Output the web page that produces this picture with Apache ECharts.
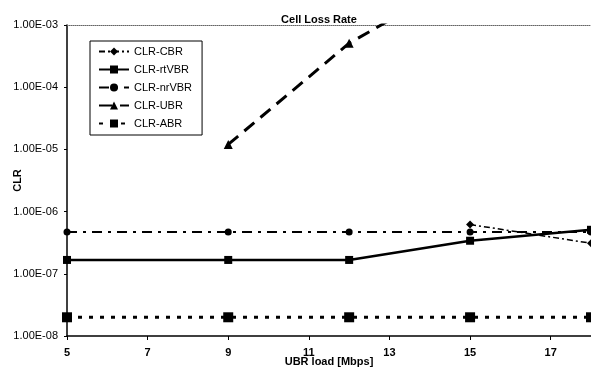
<!DOCTYPE html>
<html><head><meta charset="utf-8">
<script src="https://cdn.jsdelivr.net/npm/echarts@6/dist/echarts.min.js"></script>
<style>html,body{margin:0;padding:0;background:#fff}#c{width:591px;height:368px}</style>
</head><body><div id="c"></div>
<script>
const loads = [5, 9, 12, 15, 18];
const clrCBR = [null, null, null, 6.2e-7, 3.1e-7];
const clrRtVBR = [1.67e-7, 1.67e-7, 1.67e-7, 3.4e-7, 5.1e-7];
const clrNrVBR = [4.7e-7, 4.7e-7, 4.7e-7, 4.7e-7, 4.7e-7];
const clrUBR = [null, 1.2e-5, 5.1e-4, 6.5e-3, null];
const clrABR = [2e-8, 2e-8, 2e-8, 2e-8, 2e-8];
const seriesNames = ['CLR-CBR', 'CLR-rtVBR', 'CLR-nrVBR', 'CLR-UBR', 'CLR-ABR'];

const pair = arr => loads.map((x, i) => [x, arr[i]]);
const font = 'Liberation Sans, Arial, sans-serif';
function expFmt(v) {
  const e = Math.round(Math.log10(v));
  const a = Math.abs(e);
  return '1.00E' + (e < 0 ? '-' : '') + (a < 10 ? '0' + a : a);
}
const chart = echarts.init(document.getElementById('c'));
chart.setOption({
  animation: false,
  title: { text: 'Cell Loss Rate', left: 314, textAlign: 'center', top: 9,
    textStyle: { fontFamily: font, fontSize: 11, fontWeight: 'bold', color: '#000' } },
  grid: { left: 67, right: 0, top: 25, bottom: 32, containLabel: false, outerBoundsMode: 'none' },
  legend: {
    orient: 'vertical', left: 90, top: 41, width: 114,
    padding: [5, 10, 6, 8], itemGap: 7, itemWidth: 30, itemHeight: 10,
    borderColor: '#000', borderWidth: 1, backgroundColor: '#fff',
    textStyle: { fontFamily: font, fontSize: 11, color: '#000' },
    data: seriesNames
  },
  xAxis: [{
    type: 'value', min: 5, max: 18, interval: 2, position: 'bottom',
    name: 'UBR load [Mbps]', nameLocation: 'middle', nameGap: 20, nameMoveOverlap: false,
    nameTextStyle: { fontFamily: font, fontSize: 11, fontWeight: 'bold', color: '#000' },
    axisLine: { onZero: false, lineStyle: { color: '#000', width: 1.5 } },
    axisTick: { length: 4, lineStyle: { color: '#000' } },
    axisLabel: { showMaxLabel: false, fontFamily: font, fontSize: 11, fontWeight: 'bold', color: '#000', margin: 11 },
    splitLine: { show: false }
  }, {
    type: 'value', min: 5, max: 18, position: 'top',
    axisLine: { onZero: false, lineStyle: { color: '#666', width: 1, type: 'dotted' } },
    axisTick: { show: false }, axisLabel: { show: false }, splitLine: { show: false }
  }],
  yAxis: {
    type: 'log', logBase: 10, min: 1e-8, max: 1e-3,
    name: 'CLR', nameLocation: 'middle', nameGap: 44, nameRotate: 90, nameMoveOverlap: false,
    nameTextStyle: { fontFamily: font, fontSize: 11, fontWeight: 'bold', color: '#000' },
    axisLine: { show: true, lineStyle: { color: '#000', width: 1.5 } },
    axisTick: { show: true, length: 3, lineStyle: { color: '#000' } },
    minorTick: { show: false },
    axisLabel: { formatter: expFmt, fontFamily: font, fontSize: 11, color: '#000', margin: 9 },
    splitLine: { show: false }
  },
  series: [
    { name: seriesNames[0], type: 'line', data: pair(clrCBR), symbol: 'diamond', symbolSize: 8,
      lineStyle: { color: '#000', width: 1.5, type: [6, 3, 2, 3] }, itemStyle: { color: '#000' } },
    { name: seriesNames[1], type: 'line', data: pair(clrRtVBR), symbol: 'rect', symbolSize: 8,
      lineStyle: { color: '#000', width: 2.5, type: 'solid' }, itemStyle: { color: '#000' } },
    { name: seriesNames[2], type: 'line', data: pair(clrNrVBR), symbol: 'circle', symbolSize: 7,
      lineStyle: { color: '#000', width: 2, type: [10, 6, 3, 6] }, itemStyle: { color: '#000' } },
    { name: seriesNames[3], type: 'line', data: pair(clrUBR), symbol: 'triangle', symbolSize: 9,
      lineStyle: { color: '#000', width: 3, type: [13, 8] }, itemStyle: { color: '#000' } },
    { name: seriesNames[4], type: 'line', data: pair(clrABR), symbol: 'rect', symbolSize: 10,
      lineStyle: { color: '#000', width: 3, type: [4, 7] }, itemStyle: { color: '#000' } }
  ]
});
</script></body></html>
